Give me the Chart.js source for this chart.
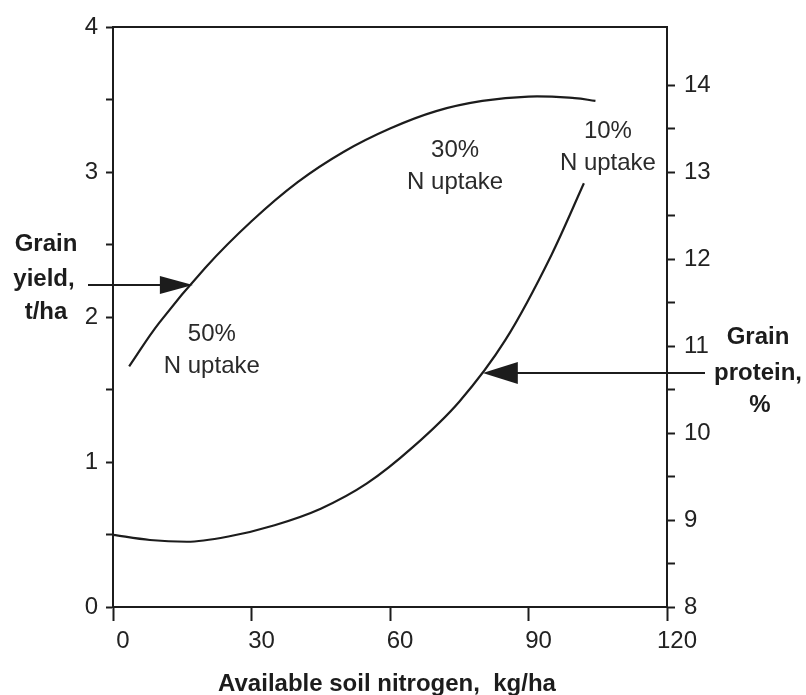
<!DOCTYPE html>
<html>
<head>
<meta charset="utf-8">
<script src="https://cdn.jsdelivr.net/npm/chart.js@4"></script>
<style>
  html, body { margin: 0; padding: 0; background: #fff; }
  #wrap { width: 806px; height: 695px; }
</style>
</head>
<body>
<div id="wrap"><canvas id="nChart" width="806" height="695"></canvas></div>
<script>
// available soil nitrogen (kg/ha) and the two response curves
const yieldN = [3.5, 10, 20, 30, 40, 50, 60, 70, 80, 90, 100, 104.5];
const yieldT = [1.66, 1.96, 2.34, 2.66, 2.93, 3.14, 3.30, 3.42, 3.49, 3.52, 3.51, 3.49];

const proteinN = [0, 8, 16, 25, 35, 45, 55, 65, 75, 85, 95, 102];
const proteinPct = [8.83, 8.77, 8.75, 8.81, 8.94, 9.13, 9.42, 9.84, 10.36, 11.07, 12.05, 12.87];

const xTicks = [0, 30, 60, 90, 120];

// arrow targets on each curve (data coords)
const yieldArrow = { x: 17.3, y: 2.22 };
const proteinArrow = { x: 80.1, y: 10.69 };

// labels on the plot: [n, yield, line1, line2]
const uptakeLabels = [
    [21.4, 1.88, '50%', 'N uptake'],
    [74.1, 3.15, '30%', 'N uptake'],
    [107.2, 3.28, '10%', 'N uptake']
];

const INK = '#1c1c1c';
const FONT = '"Liberation Sans", Arial, Helvetica, sans-serif';

function toPoints(xs, ys) {
    return xs.map((x, i) => ({ x: x, y: ys[i] }));
}

function arrowHead(ctx, tipX, tipY, dir, len, half) {
    ctx.beginPath();
    ctx.moveTo(tipX, tipY);
    ctx.lineTo(tipX - dir * len, tipY - half);
    ctx.lineTo(tipX - dir * len, tipY + half);
    ctx.closePath();
    ctx.fill();
}

const extrasPlugin = {
    id: 'extras',
    afterDatasetsDraw(chart) {
        const ctx = chart.ctx;
        const area = chart.chartArea;
        const xs = chart.scales.x, ys = chart.scales.y, y2 = chart.scales.y2;
        ctx.save();
        ctx.strokeStyle = INK;
        ctx.fillStyle = INK;

        // top frame line
        ctx.lineWidth = 2;
        ctx.beginPath();
        ctx.moveTo(area.left, area.top);
        ctx.lineTo(area.right, area.top);
        ctx.stroke();

        // yield arrow (from left, pointing right)
        let tx = xs.getPixelForValue(yieldArrow.x);
        let ty = ys.getPixelForValue(yieldArrow.y);
        ctx.lineWidth = 2;
        ctx.beginPath();
        ctx.moveTo(area.left - 25, ty);
        ctx.lineTo(tx - 20, ty);
        ctx.stroke();
        arrowHead(ctx, tx, ty, 1, 33, 9);

        // protein arrow (from right, pointing left)
        tx = xs.getPixelForValue(proteinArrow.x);
        ty = y2.getPixelForValue(proteinArrow.y);
        ctx.beginPath();
        ctx.moveTo(area.right + 38, ty);
        ctx.lineTo(tx + 20, ty);
        ctx.stroke();
        arrowHead(ctx, tx, ty, -1, 35, 11);

        // uptake labels
        ctx.font = '24px ' + FONT;
        ctx.textAlign = 'center';
        ctx.textBaseline = 'middle';
        ctx.fillStyle = '#2a2a2a';
        uptakeLabels.forEach(l => {
            const px = xs.getPixelForValue(l[0]);
            const py = ys.getPixelForValue(l[1]);
            ctx.fillText(l[2], px, py);
            ctx.fillText(l[3], px, py + 32);
        });

        // axis titles
        ctx.fillStyle = INK;
        ctx.font = 'bold 24px ' + FONT;
        ctx.fillText('Grain', 46, 244);
        ctx.fillText('yield,', 44, 279);
        ctx.fillText('t/ha', 46, 312);

        ctx.fillText('Grain', 758, 337);
        ctx.fillText('protein,', 758, 373);
        ctx.fillText('%', 760, 405);

        ctx.fillText('Available soil nitrogen,  kg/ha', 387, 684);
        ctx.restore();
    }
};

const halfTickLabel = v => (Math.abs(v - Math.round(v)) < 1e-6 ? String(Math.round(v)) : '');

new Chart(document.getElementById('nChart'), {
    type: 'line',
    data: {
        datasets: [
            {
                label: 'Grain yield',
                data: toPoints(yieldN, yieldT),
                yAxisID: 'y',
                borderColor: INK,
                borderWidth: 2.2,
                pointRadius: 0,
                tension: 0.4,
                fill: false
            },
            {
                label: 'Grain protein',
                data: toPoints(proteinN, proteinPct),
                yAxisID: 'y2',
                borderColor: INK,
                borderWidth: 2.2,
                pointRadius: 0,
                cubicInterpolationMode: 'monotone',
                fill: false
            }
        ]
    },
    options: {
        responsive: false,
        animation: false,
        layout: { padding: { top: 27, left: 0, right: 0, bottom: 0 } },
        plugins: {
            legend: { display: false },
            tooltip: { enabled: false }
        },
        scales: {
            x: {
                type: 'linear',
                min: 0,
                max: 120,
                afterBuildTicks: s => { s.ticks = xTicks.map(v => ({ value: v })); },
                afterFit: s => { s.height = 88; },
                border: { display: true, color: INK, width: 2 },
                grid: { drawOnChartArea: false, drawTicks: true, tickLength: 14, tickColor: INK, tickWidth: 2 },
                ticks: { color: '#222', font: { family: FONT, size: 24 }, padding: 6, labelOffset: 10, maxRotation: 0 }
            },
            y: {
                position: 'left',
                min: 0,
                max: 4,
                afterFit: s => { s.width = 113; },
                border: { display: true, color: INK, width: 2 },
                grid: { drawOnChartArea: false, drawTicks: true, tickLength: 7, tickColor: INK, tickWidth: 2 },
                ticks: { stepSize: 0.5, autoSkip: false, color: '#222', font: { family: FONT, size: 24 }, padding: 8, callback: halfTickLabel }
            },
            y2: {
                position: 'right',
                min: 8,
                max: 8 + 4 / 0.6,
                afterBuildTicks: s => { s.ticks = s.ticks.filter(t => t.value <= 14.5 + 1e-6); },
                afterFit: s => { s.width = 139; },
                border: { display: true, color: INK, width: 2 },
                grid: { drawOnChartArea: false, drawTicks: true, tickLength: 8, tickColor: INK, tickWidth: 2 },
                ticks: { stepSize: 0.5, autoSkip: false, color: '#222', font: { family: FONT, size: 24 }, padding: 9, callback: halfTickLabel }
            }
        }
    },
    plugins: [extrasPlugin]
});
</script>
</body>
</html>
